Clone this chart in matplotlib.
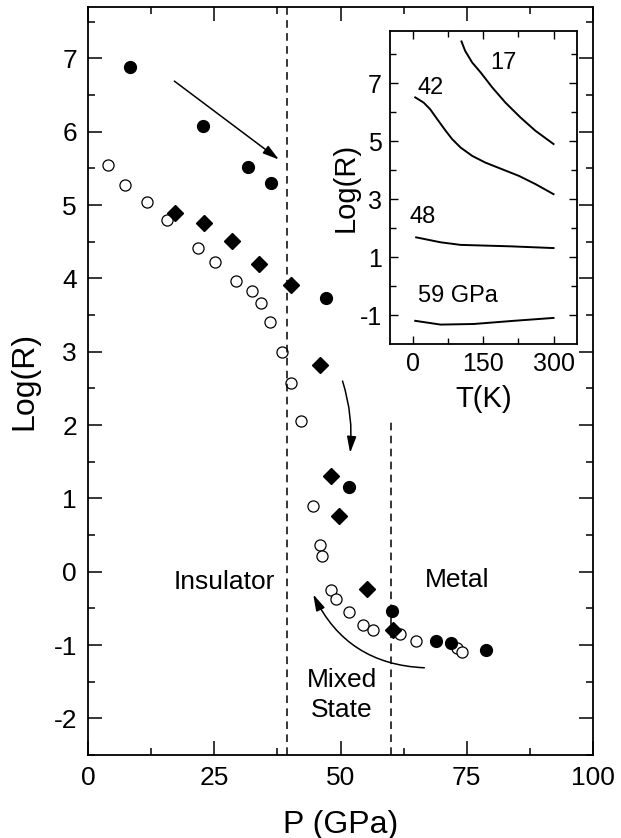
import matplotlib.pyplot as plt

plt.rcParams['font.family'] = ['Liberation Sans', 'DejaVu Sans']
plt.rcParams['axes.unicode_minus'] = False

# pressure (GPa) and log resistance for the three runs
p_filled = [8.3, 22.7, 31.7, 36.2, 47.1, 51.7, 60.1, 68.9, 71.8, 78.8]
r_filled = [6.88, 6.08, 5.52, 5.30, 3.73, 1.16, -0.53, -0.94, -0.97, -1.07]

p_diam = [17.2, 23.0, 28.6, 33.9, 40.1, 45.9, 48.2, 49.6, 55.2, 60.3]
r_diam = [4.89, 4.76, 4.51, 4.20, 3.91, 2.82, 1.31, 0.76, -0.24, -0.79]

p_open = [4.0, 7.3, 11.6, 15.7, 21.8, 25.1, 29.4, 32.4, 34.2, 36.0, 38.5, 40.1, 42.1,
          44.6, 45.9, 46.4, 48.2, 49.2, 51.7, 54.4, 56.4, 61.8, 65.0, 73.0, 74.0]
r_open = [5.55, 5.27, 5.04, 4.79, 4.42, 4.23, 3.97, 3.83, 3.67, 3.41, 3.00, 2.58, 2.06,
          0.90, 0.37, 0.22, -0.25, -0.37, -0.55, -0.73, -0.79, -0.85, -0.94, -1.04, -1.10]

# inset: log(R) vs temperature at fixed pressures
t_17 = [103, 111, 126, 144, 169, 197, 229, 261, 300]
r_17 = [8.44, 8.11, 7.71, 7.37, 6.85, 6.33, 5.82, 5.36, 4.90]
t_42 = [4, 22, 36, 51, 69, 83, 101, 126, 154, 190, 226, 261, 300]
r_42 = [6.51, 6.33, 6.10, 5.76, 5.36, 5.07, 4.78, 4.49, 4.26, 4.03, 3.80, 3.52, 3.17]
t_48 = [6, 58, 101, 208, 300]
r_48 = [1.68, 1.51, 1.42, 1.37, 1.31]
t_59 = [4, 58, 129, 215, 300]
r_59 = [-1.20, -1.33, -1.31, -1.20, -1.10]

fig = plt.figure(figsize=(6.21, 8.38), dpi=100)
ax = fig.add_axes([0.1417, 0.099, 0.8133, 0.8926])

ax.plot(p_open, r_open, 'o', mfc='white', mec='black', mew=0.9, ms=8, ls='none')
ax.plot(p_diam, r_diam, 'D', color='black', ms=8, ls='none')
ax.plot(p_filled, r_filled, 'o', color='black', ms=8.5, ls='none')

ax.axvline(39.5, color='black', ls=(0, (5, 3.5)), lw=1.1)
ax.plot([60, 60], [-2.5, 2.1], color='black', ls=(0, (5, 3.5)), lw=1.1)

arr = dict(arrowstyle='-|>,head_length=0.7,head_width=0.2', color='black', lw=1.1,
           shrinkA=0, shrinkB=0, mutation_scale=14)
ax.annotate('', xy=(37.8, 5.62), xytext=(17.1, 6.69), arrowprops=arr)
ax.annotate('', xy=(51.9, 1.62), xytext=(50.4, 2.60),
            arrowprops=dict(arr, connectionstyle='arc3,rad=-0.1'))
ax.annotate('', xy=(44.6, -0.31), xytext=(66.6, -1.31),
            arrowprops=dict(arr, connectionstyle='arc3,rad=-0.3'))

ax.text(26.9, -0.14, 'Insulator', fontsize=19, ha='center', va='center')
ax.text(73, -0.11, 'Metal', fontsize=19, ha='center', va='center')
ax.text(50.2, -1.68, 'Mixed\nState', fontsize=19, ha='center', va='center', linespacing=1.3)

ax.set_xlim(0, 100)
ax.set_ylim(-2.5, 7.7)
ax.set_xticks([0, 25, 50, 75, 100])
ax.set_xticks([12.5, 37.5, 62.5, 87.5], minor=True)
ax.set_yticks(range(-2, 8))
ax.set_yticks([v + 0.5 for v in range(-3, 8)], minor=True)
ax.tick_params(which='both', direction='in', top=True, right=True, labelsize=19, width=1.1)
ax.tick_params(which='major', length=10, pad=8)
ax.tick_params(which='minor', length=5)
for s in ax.spines.values():
    s.set_linewidth(1.3)
ax.set_xlabel('P (GPa)', fontsize=23, labelpad=14)
ax.set_ylabel('Log(R)', fontsize=23)
ax.yaxis.set_label_coords(-0.097, 0.5)

# inset
ins = fig.add_axes([0.628, 0.5895, 0.301, 0.3735])
ins.plot(t_17, r_17, color='black', lw=1.4)
ins.plot(t_42, r_42, color='black', lw=1.4)
ins.plot(t_48, r_48, color='black', lw=1.4)
ins.plot(t_59, r_59, color='black', lw=1.4)
ins.text(193, 7.69, '17', fontsize=17, ha='center', va='center')
ins.text(36, 6.83, '42', fontsize=17, ha='center', va='center')
ins.text(19, 2.38, '48', fontsize=17, ha='center', va='center')
ins.text(96, -0.34, '59 GPa', fontsize=17, ha='center', va='center')
ins.set_xlim(-50, 350)
ins.set_ylim(-2, 8.8)
ins.set_xticks([0, 150, 300])
ins.set_xticks([75, 225], minor=True)
ins.set_yticks([-1, 1, 3, 5, 7])
ins.set_yticks([0, 2, 4, 6, 8], minor=True)
ins.tick_params(which='both', direction='in', top=True, right=True, labelsize=18, width=1.0)
ins.tick_params(which='major', length=6, pad=6)
ins.tick_params(which='minor', length=4)
for s in ins.spines.values():
    s.set_linewidth(1.3)
ins.set_xlabel('T(K)', fontsize=21, labelpad=6)
ins.set_ylabel('Log(R)', fontsize=21, labelpad=0)

fig.savefig('out.png', dpi=100)
